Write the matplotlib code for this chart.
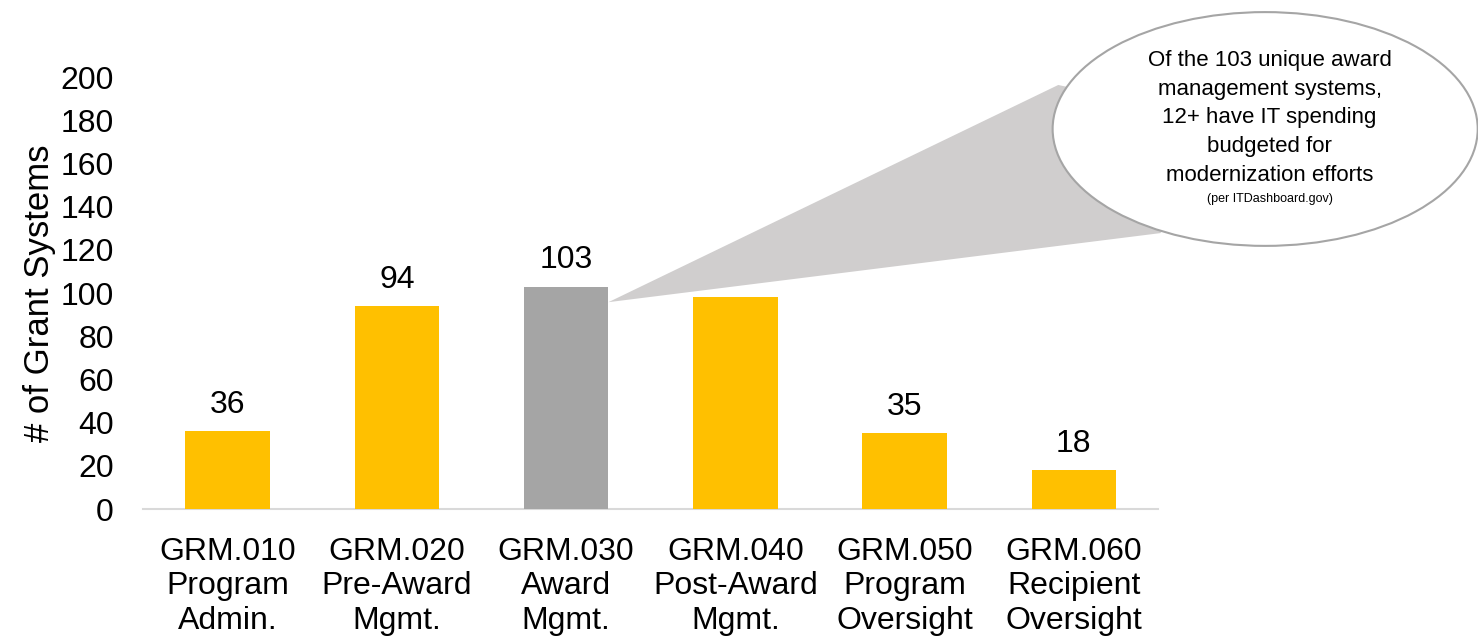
import matplotlib.pyplot as plt
from matplotlib.patches import Ellipse, Polygon

plt.rcParams['font.family'] = ['Liberation Sans', 'DejaVu Sans']

# --- data ---
categories = ["GRM.010\nProgram\nAdmin.", "GRM.020\nPre-Award\nMgmt.", "GRM.030\nAward\nMgmt.",
              "GRM.040\nPost-Award\nMgmt.", "GRM.050\nProgram\nOversight", "GRM.060\nRecipient\nOversight"]
values = [36, 94, 103, 98, 35, 18]
highlight = 2
yticks = list(range(0, 201, 20))
callout_text = ("Of the 103 unique award\nmanagement systems,\n12+ have IT spending\n"
                "budgeted for\nmodernization efforts")
callout_note = "(per ITDashboard.gov)"

YELLOW = "#FFC000"
GRAY = "#A5A5A5"

fig = plt.figure(figsize=(14.78, 6.37), dpi=100)
ax = fig.add_axes([0.0968, 0.2009, 0.687, 0.678])

colors = [GRAY if i == highlight else YELLOW for i in range(len(values))]
x = list(range(len(values)))
bars = ax.bar(x, values, width=0.5, color=colors, zorder=3)

for xi, v in zip(x, values):
    ax.annotate(str(v), (xi, v), xytext=(0, 19), textcoords="offset points",
                ha="center", va="center", fontsize=23)

ax.set_xlim(-0.5, len(values) - 0.5)
ax.set_ylim(0, 200)
ax.set_yticks(yticks)
ax.set_xticks(x)
ax.set_xticklabels(categories, fontsize=23, linespacing=1.2)
ax.tick_params(axis="y", labelsize=23, length=0, pad=21)
ax.tick_params(axis="x", length=0, pad=20)
ax.set_ylabel("# of Grant Systems", fontsize=25, labelpad=3)

for s in ["top", "right", "left"]:
    ax.spines[s].set_visible(False)
ax.spines["bottom"].set_color("#D9D9D9")
ax.spines["bottom"].set_linewidth(1.5)

# --- callout (wedge from highlighted bar to an ellipse) ---
fig.canvas.draw()
b = bars[highlight]
tip_disp = ax.transData.transform((b.get_x() + b.get_width(), values[highlight] * 0.93))
tip = fig.transFigure.inverted().transform(tip_disp)

ecx, ecy, ew, eh = 0.856, 0.7975, 0.2876, 0.367
wedge = Polygon([tip, (0.716, 0.8666), (ecx, ecy), (0.785, 0.634)], closed=True,
                transform=fig.transFigure, facecolor="#D0CECE", edgecolor="none", zorder=1)
fig.add_artist(wedge)
ell = Ellipse((ecx, ecy), ew, eh, transform=fig.transFigure, facecolor="white",
              edgecolor="#A5A5A5", linewidth=1.5, zorder=2)
fig.add_artist(ell)

fig.text(0.859, 0.8148, callout_text, ha="center", va="center", fontsize=16,
         linespacing=1.47, zorder=4)
fig.text(0.859, 0.6875, callout_note, ha="center", va="center", fontsize=9, zorder=4)

fig.savefig("out.png", dpi=100)
